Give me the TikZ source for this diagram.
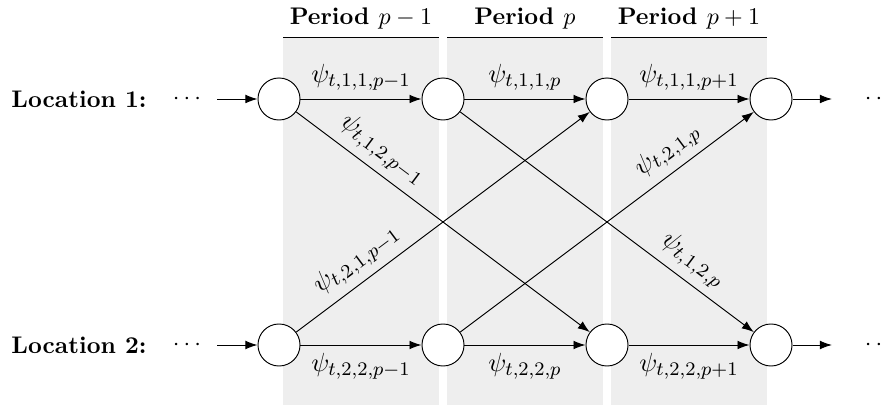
\documentclass[tikz,border=0pt]{standalone}
\usetikzlibrary{arrows.meta}
\definecolor{bandgray}{RGB}{238,238,238}
\begin{document}
\begin{tikzpicture}[x=0.01464cm,y=-0.01464cm,
  state/.style={circle,draw,fill=white,minimum size=0.615cm,inner sep=0pt},
  flow/.style={-{Latex[length=5pt,width=3.6pt]}},
  band/.style={fill=bandgray,draw=none},
  hdr/.style={font=\bfseries},
  loc/.style={font=\bfseries,anchor=west},
  elab/.style={font=\fontsize{11}{13}\selectfont}]
\useasboundingbox (0,0) rectangle (886,405);
% bands
\fill[band] (283,37) rectangle (439,405);
\fill[band] (447,37) rectangle (603,405);
\fill[band] (611,37) rectangle (767,405);
\draw (283,37) -- (439,37);
\draw (447,37) -- (603,37);
\draw (611,37) -- (767,37);
\node[hdr] (h1) at (361,19) {Period $p-1$};
\node[hdr] (h2) at (525,19) {Period $p$};
\node[hdr] (h3) at (689,19) {Period $p+1$};
% row labels
\node[loc] (l1) at (3,99) {Location 1:};
\node[loc] (l2) at (3,345) {Location 2:};
\node (d1) at (187,99) {$\cdots$};
\node (d2) at (187,345) {$\cdots$};
\node (e1) at (879,99) {$\cdots$};
\node (e2) at (879,345) {$\cdots$};
\coordinate (i1) at (217,99);
\coordinate (i2) at (217,345);
\coordinate (o1) at (832,99);
\coordinate (o2) at (832,345);
% states
\node[state] (a1) at (279,99) {};
\node[state] (a2) at (443,99) {};
\node[state] (a3) at (607,99) {};
\node[state] (a4) at (771,99) {};
\node[state] (b1) at (279,345) {};
\node[state] (b2) at (443,345) {};
\node[state] (b3) at (607,345) {};
\node[state] (b4) at (771,345) {};
% edges
\draw[flow] (i1) -- (a1);
\draw[flow] (i2) -- (b1);
\draw[flow] (a4) -- (o1);
\draw[flow] (b4) -- (o2);
\draw[flow] (a1) -- node[elab,above] {$\psi_{t,1,1,p-1}$} (a2);
\draw[flow] (a2) -- node[elab,above] {$\psi_{t,1,1,p}$} (a3);
\draw[flow] (a3) -- node[elab,above] {$\psi_{t,1,1,p+1}$} (a4);
\draw[flow] (b1) -- node[elab,below] {$\psi_{t,2,2,p-1}$} (b2);
\draw[flow] (b2) -- node[elab,below] {$\psi_{t,2,2,p}$} (b3);
\draw[flow] (b3) -- node[elab,below] {$\psi_{t,2,2,p+1}$} (b4);
\draw[flow] (a1) -- node[elab,pos=0.25,sloped,above] {$\psi_{t,1,2,p-1}$} (b3);
\draw[flow] (b1) -- node[elab,pos=0.25,sloped,above] {$\psi_{t,2,1,p-1}$} (a3);
\draw[flow] (a2) -- node[elab,pos=0.75,sloped,above] {$\psi_{t,1,2,p}$} (b4);
\draw[flow] (b2) -- node[elab,pos=0.75,sloped,above] {$\psi_{t,2,1,p}$} (a4);
\end{tikzpicture}
\end{document}
